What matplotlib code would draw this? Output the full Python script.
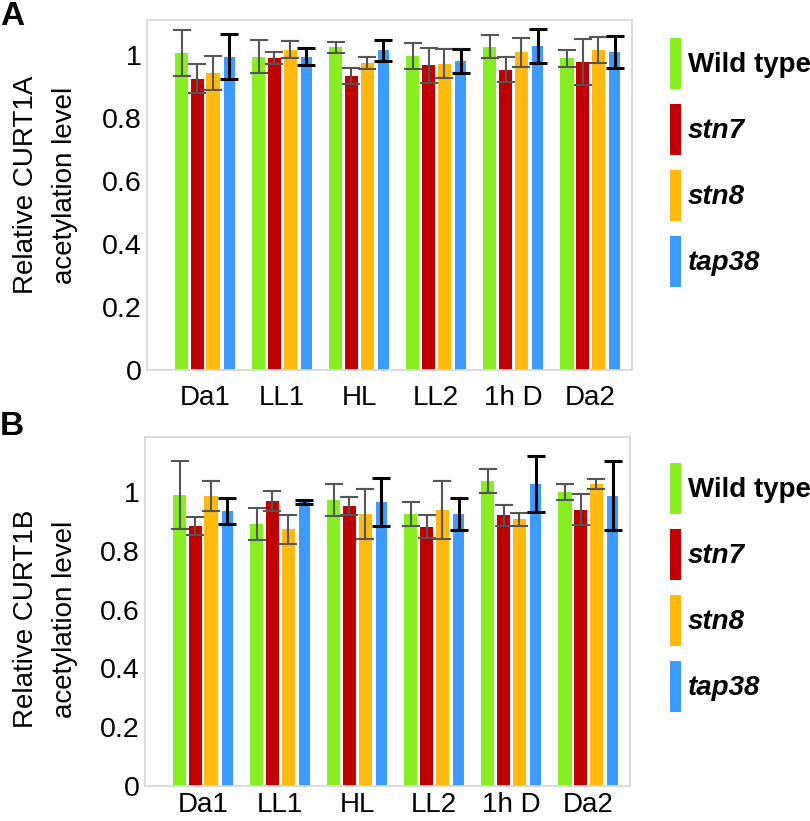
import matplotlib
matplotlib.use("Agg")
import matplotlib.pyplot as plt
from matplotlib.patches import Patch
import numpy as np

plt.rcParams['font.family'] = ['Liberation Sans', 'DejaVu Sans']

conditions = ["Da1", "LL1", "HL", "LL2", "1h D", "Da2"]
genotypes = ["Wild type", "stn7", "stn8", "tap38"]
colors = ["#88EE22", "#C00000", "#FFB90F", "#3D9BFF"]
err_colors = ["#555555", "#555555", "#555555", "#000000"]

# Panel A: CURT1A
a_wt    = [1.005, 0.994, 1.023, 0.996, 1.025, 0.988]
a_stn7  = [0.924, 0.990, 0.933, 0.966, 0.953, 0.976]
a_stn8  = [0.942, 1.016, 0.974, 0.972, 1.007, 1.015]
a_tap38 = [0.994, 0.994, 1.014, 0.981, 1.028, 1.009]
a_wt_err    = [0.072, 0.052, 0.017, 0.042, 0.036, 0.027]
a_stn7_err  = [0.047, 0.020, 0.025, 0.056, 0.039, 0.073]
a_stn8_err  = [0.053, 0.028, 0.019, 0.046, 0.047, 0.040]
a_tap38_err = [0.072, 0.026, 0.034, 0.038, 0.054, 0.050]

# Panel B: CURT1B
b_wt    = [0.990, 0.891, 0.973, 0.925, 1.038, 0.999]
b_stn7  = [0.884, 0.969, 0.952, 0.882, 0.921, 0.939]
b_stn8  = [0.986, 0.873, 0.925, 0.939, 0.907, 1.027]
b_tap38 = [0.935, 0.967, 0.966, 0.926, 1.027, 0.987]
b_wt_err    = [0.116, 0.056, 0.054, 0.040, 0.040, 0.027]
b_stn7_err  = [0.030, 0.035, 0.030, 0.039, 0.036, 0.053]
b_stn8_err  = [0.052, 0.050, 0.086, 0.100, 0.022, 0.016]
b_tap38_err = [0.044, 0.007, 0.081, 0.055, 0.096, 0.118]

yticks = [0, 0.2, 0.4, 0.6, 0.8, 1.0]
ytick_labels = ["0", "0.2", "0.4", "0.6", "0.8", "1"]

offsets = [-0.305, -0.10, 0.105, 0.315]
widths = [0.172, 0.172, 0.172, 0.143]

fig = plt.figure(figsize=(8.1, 8.21), dpi=100)

def panel(rect, series, errs, ymax, ylabel1, ylabel2, label_y, letter, letter_y,
          leg_top, xpad):
    ax = fig.add_axes(rect)
    x = np.arange(len(conditions))
    for i in range(4):
        ax.bar(x + offsets[i], series[i], width=widths[i], color=colors[i],
               edgecolor='none', zorder=2)
    for i in range(4):
        lw = 2.2 if i == 3 else 1.5
        ax.errorbar(x + offsets[i], series[i], yerr=errs[i], fmt='none',
                    ecolor=err_colors[i], elinewidth=lw, capsize=6.5,
                    capthick=lw, zorder=3)
    ax.set_xlim(-0.753, 5.54)
    ax.set_ylim(0, ymax)
    ax.set_yticks(yticks)
    ax.set_yticklabels(ytick_labels, fontsize=20.5)
    ax.set_xticks(x)
    ax.set_xticklabels(conditions, fontsize=20)
    ax.tick_params(axis='both', length=0)
    ax.tick_params(axis='y', pad=4)
    ax.tick_params(axis='x', pad=xpad)
    for s in ax.spines.values():
        s.set_color('#D9D9D9')
        s.set_linewidth(1.3)
    fig.text(26/810, label_y, ylabel1, rotation=90, ha='center', va='center', fontsize=20)
    fig.text(65/810, label_y, ylabel2, rotation=90, ha='center', va='center', fontsize=20)
    fig.text(0.0, letter_y, letter, ha='left', va='top', fontsize=24, fontweight='bold')
    handles = [Patch(facecolor=c, edgecolor='none') for c in colors]
    leg = fig.legend(handles, genotypes, loc='upper left',
                     bbox_to_anchor=(670/810, leg_top), frameon=False,
                     borderpad=0, borderaxespad=0, handlelength=0.385,
                     handleheight=2.45, labelspacing=0.54, handletextpad=0.25,
                     prop={'size': 20, 'weight': 'bold'})
    for j, t in enumerate(leg.get_texts()):
        if j > 0:
            t.set_fontstyle('italic')
    return ax

panel([147/810, 1-370/821, 485/810, 350/821],
      [a_wt, a_stn7, a_stn8, a_tap38],
      [a_wt_err, a_stn7_err, a_stn8_err, a_tap38_err],
      1.11, "Relative CURT1A", "acetylation level", 1-185/821,
      "A", 1-1/821, 1-38/821, 11)

panel([145/810, 1-786/821, 485/810, 349/821],
      [b_wt, b_stn7, b_stn8, b_tap38],
      [b_wt_err, b_stn7_err, b_stn8_err, b_tap38_err],
      1.187, "Relative CURT1B", "acetylation level", 1-619/821,
      "B", 1-411/821, 1-463/821, 4)

fig.savefig("out.png", dpi=100)
